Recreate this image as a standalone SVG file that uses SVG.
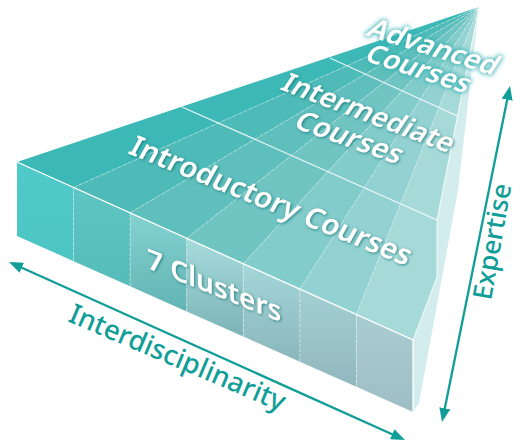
<svg xmlns="http://www.w3.org/2000/svg" width="520" height="443" viewBox="0 0 520 443">
<defs>
<style>
.lbl{font-family:"Noto Sans","Open Sans",sans-serif;font-weight:600;fill:#ffffff;}
.axis{font-family:"Noto Sans","Open Sans",sans-serif;font-weight:500;fill:#119e98;}
.ray{stroke:#ffffff;stroke-opacity:0.4;stroke-width:0.9;stroke-dasharray:4 2;fill:none;}
.vdash{stroke:#ffffff;stroke-opacity:0.5;stroke-width:0.9;stroke-dasharray:3 2;fill:none;}
.band{stroke:#ffffff;stroke-opacity:0.85;stroke-width:1.3;fill:none;}
.edge{stroke:#ffffff;stroke-width:1.3;fill:none;}
.arrow{stroke:#119e98;stroke-width:2.3;fill:none;marker-start:url(#ah);marker-end:url(#ah);}
</style>
<marker id="ah" viewBox="0 0 14 11" refX="6" refY="5.5" markerWidth="14" markerHeight="11" markerUnits="userSpaceOnUse" orient="auto-start-reverse">
<path d="M0,0 L14,5.5 L0,11 z" fill="#119e98"/>
</marker>
<filter id="sh" x="-10%" y="-40%" width="120%" height="180%">
<feGaussianBlur in="SourceAlpha" stdDeviation="1.7" result="b"/>
<feOffset in="b" dx="1" dy="1.3" result="o"/>
<feFlood flood-color="#0b6c6d" flood-opacity="0.75"/>
<feComposite in2="o" operator="in"/>
<feMerge><feMergeNode/><feMergeNode in="SourceGraphic"/></feMerge>
</filter>
<filter id="halo" x="-15%" y="-50%" width="130%" height="200%">
<feMorphology in="SourceAlpha" operator="dilate" radius="1" result="d"/>
<feGaussianBlur in="d" stdDeviation="2" result="b"/>
<feFlood flood-color="#2fb0b0" flood-opacity="0.85"/>
<feComposite in2="b" operator="in"/>
<feMerge><feMergeNode/><feMergeNode in="SourceGraphic"/></feMerge>
</filter>
<linearGradient id="c1" x1="0" y1="0" x2="0" y2="1"><stop offset="0" stop-color="#50cac8"/><stop offset="1" stop-color="#4cc5c4"/></linearGradient>
<linearGradient id="c2" x1="0" y1="0" x2="0" y2="1"><stop offset="0" stop-color="#5fc5c2"/><stop offset="1" stop-color="#55bcba"/></linearGradient>
<linearGradient id="c3" x1="0" y1="0" x2="0" y2="1"><stop offset="0" stop-color="#84d3d2"/><stop offset="1" stop-color="#62b3b3"/></linearGradient>
<linearGradient id="c4" x1="0" y1="0" x2="0" y2="1"><stop offset="0" stop-color="#a6dcdc"/><stop offset="1" stop-color="#7cb3b6"/></linearGradient>
<linearGradient id="c5" x1="0" y1="0" x2="0" y2="1"><stop offset="0" stop-color="#a4d7d9"/><stop offset="1" stop-color="#8ab6bb"/></linearGradient>
<linearGradient id="c6" x1="0" y1="0" x2="0" y2="1"><stop offset="0" stop-color="#a4d0d3"/><stop offset="1" stop-color="#90b7bd"/></linearGradient>
<linearGradient id="c7" x1="0" y1="0" x2="0" y2="1"><stop offset="0" stop-color="#a8cdd1"/><stop offset="1" stop-color="#9ebec4"/></linearGradient>
</defs>

<g id="pyramid">
  <g id="side-face">
    <polygon points="479,7 458,190 419,403 413,412 413,340 437,277 437,220" fill="#d3ecee"/>
  </g>
  <g id="top-face">
    <polygon points="479,7 17,162 73.57,187.43" fill="#3cb8b7"/>
    <polygon points="479,7 73.57,187.43 130.14,212.86" fill="#4ebbb8"/>
    <polygon points="479,7 130.14,212.86 186.71,238.29" fill="#5fbfbc"/>
    <polygon points="479,7 186.71,238.29 243.29,263.71" fill="#70c5c3"/>
    <polygon points="479,7 243.29,263.71 299.86,289.14" fill="#82cccb"/>
    <polygon points="479,7 299.86,289.14 356.43,314.57" fill="#93d2d2"/>
    <polygon points="479,7 356.43,314.57 413,340 437,277 437,220" fill="#a6dad9"/>
    <path class="ray" d="M73.57,187.43 L479,7 M130.14,212.86 L479,7 M186.71,238.29 L479,7 M243.29,263.71 L479,7 M299.86,289.14 L479,7 M356.43,314.57 L479,7"/>
    <path class="band" d="M182,107 L437,220 M330,58 L457.5,116"/>
    <path d="M479,7 L437,220 L437,277 L413,340" stroke="#ffffff" stroke-opacity="0.8" stroke-width="1" fill="none"/>
  </g>
  <g id="front-face">
    <polygon points="17,162 73.57,187.43 73.57,261.14 17,236" fill="url(#c1)"/>
    <polygon points="73.57,187.43 130.14,212.86 130.14,286.29 73.57,261.14" fill="url(#c2)"/>
    <polygon points="130.14,212.86 186.71,238.29 186.71,311.43 130.14,286.29" fill="url(#c3)"/>
    <polygon points="186.71,238.29 243.29,263.71 243.29,336.57 186.71,311.43" fill="url(#c4)"/>
    <polygon points="243.29,263.71 299.86,289.14 299.86,361.71 243.29,336.57" fill="url(#c5)"/>
    <polygon points="299.86,289.14 356.43,314.57 356.43,386.86 299.86,361.71" fill="url(#c6)"/>
    <polygon points="356.43,314.57 413,340 413,412 356.43,386.86" fill="url(#c7)"/>
    <path class="vdash" d="M73.57,187.43 V261.14 M130.14,212.86 V286.29 M186.71,238.29 V311.43 M243.29,263.71 V336.57 M299.86,289.14 V361.71 M356.43,314.57 V386.86"/>
    <path class="edge" d="M17,162 L413,340 L413,412"/>
  </g>
</g>

<g id="advanced-courses" filter="url(#halo)">
  <text class="lbl" font-size="28" transform="matrix(0.954 0.301 -0.545 0.839 365 35)">Advanced</text>
  <text class="lbl" font-size="27.5" transform="matrix(0.951 0.309 -0.545 0.839 363 60)">Courses</text>
</g>
<g id="intermediate-courses" filter="url(#sh)">
  <text class="lbl" font-size="28" transform="matrix(0.935 0.353 -0.56 0.83 279 89)">Intermediate</text>
  <text class="lbl" font-size="28.5" transform="matrix(0.943 0.334 -0.56 0.83 292 127)">Courses</text>
</g>
<g id="introductory-courses" filter="url(#sh)">
  <text class="lbl" font-size="29" transform="matrix(0.927 0.375 -0.485 0.875 127 153)">Introductory Courses</text>
</g>
<g id="clusters" filter="url(#sh)">
  <text class="lbl" font-size="28" transform="translate(147 268) skewY(22)">7 Clusters</text>
</g>

<g id="connectors">
  <line class="arrow" x1="16.3" y1="265.3" x2="397.7" y2="436.7"/>
  <line class="arrow" x1="508.4" y1="93.8" x2="443.6" y2="414.2"/>
</g>

<g id="interdisciplinarity">
  <text class="axis" font-size="27.5" transform="translate(67 321) rotate(23)">Interdisciplinarity</text>
</g>
<g id="expertise">
  <text class="axis" font-size="26.5" transform="translate(491 301) rotate(-80)">Expertise</text>
</g>
</svg>
